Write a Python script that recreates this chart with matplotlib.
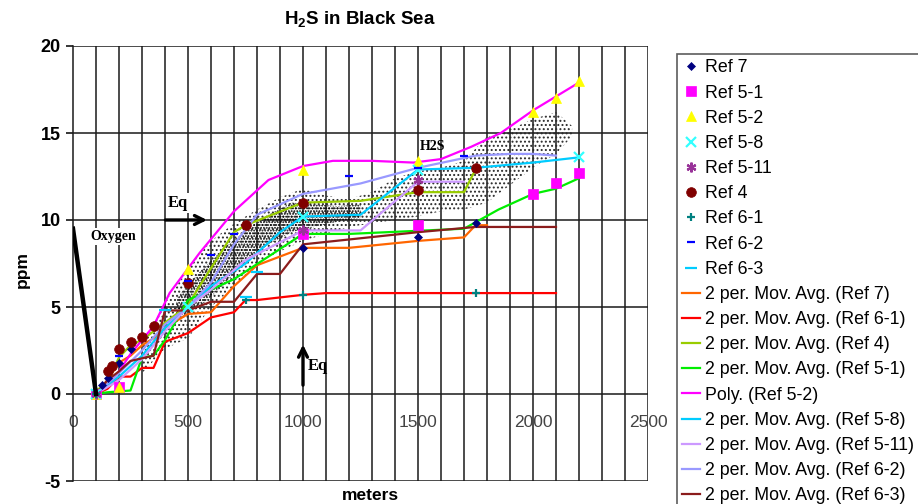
import matplotlib
matplotlib.use("Agg")
import matplotlib.pyplot as plt

plt.rcParams["font.family"] = ["Liberation Sans", "DejaVu Sans"]
plt.rcParams["mathtext.fontset"] = "custom"
plt.rcParams["mathtext.rm"] = "Liberation Sans"
plt.rcParams["mathtext.bf"] = "Liberation Sans:bold"
plt.rcParams["axes.unicode_minus"] = False
plt.rcParams["hatch.linewidth"] = 0.9

# ---- measured points (markers) ----
ref7_x = [100, 125, 150, 200, 250, 1000, 1500, 1750]
ref7_y = [0, 0.5, 0.9, 1.8, 2.6, 8.4, 9.0, 9.8]
ref51_x = [100, 200, 1000, 1500, 2000, 2100, 2200]
ref51_y = [0, 0.4, 9.2, 9.7, 11.5, 12.1, 12.7]
ref52_x = [100, 200, 500, 1000, 1500, 2000, 2100, 2200]
ref52_y = [0, 0.4, 7.2, 12.9, 13.4, 16.2, 17.0, 18.0]
ref58_x = [100, 500, 1000, 1500, 2200]
ref58_y = [0, 5.0, 10.2, 12.9, 13.6]
ref511_x = [100, 1000, 1500]
ref511_y = [0, 9.4, 12.3]
ref4_x = [150, 170, 200, 250, 300, 350, 500, 750, 1000, 1500, 1750]
ref4_y = [1.3, 1.6, 2.6, 3.0, 3.3, 3.9, 6.4, 9.7, 11.0, 11.7, 13.0]
ref61_x = [100, 750, 1000, 1750]
ref61_y = [0, 5.4, 5.7, 5.8]
ref62_x = [200, 500, 600, 700, 1200, 1500, 1700]
ref62_y = [2.2, 6.5, 8.0, 9.2, 12.5, 13.0, 13.7]
ref63_x = [400, 750, 800]
ref63_y = [4.8, 5.6, 7.0]

# ---- trend lines ----
ma7_x = [100, 150, 200, 250, 300, 350, 400, 500, 600, 700, 800, 1000, 1200, 1500, 1700, 1750, 1800]
ma7_y = [0, 0.8, 1.8, 2.2, 2.8, 3.2, 3.8, 4.6, 4.7, 6.2, 7.4, 8.4, 8.4, 8.8, 9.0, 9.7, 9.7]
ma61_x = [100, 150, 200, 250, 300, 350, 400, 500, 600, 700, 750, 800, 1000, 1100, 1500, 1750, 2100]
ma61_y = [0, 0.3, 1.0, 1.0, 1.5, 1.5, 3.0, 3.5, 4.4, 4.7, 5.4, 5.4, 5.7, 5.8, 5.8, 5.8, 5.8]
ma4_x = [100, 150, 175, 200, 250, 300, 350, 500, 550, 700, 750, 1000, 1250, 1500, 1700, 1750]
ma4_y = [0.2, 0.6, 1.4, 2.1, 2.8, 3.1, 3.6, 5.1, 6.2, 9.3, 9.7, 11.0, 11.1, 11.6, 11.6, 12.9]
ma51_x = [100, 150, 250, 300, 350, 400, 500, 700, 1000, 1200, 1700, 1850, 2000, 2100, 2200]
ma51_y = [0, 0.1, 0.2, 2.1, 2.2, 3.1, 5.4, 6.6, 9.2, 9.2, 9.5, 10.6, 11.5, 11.8, 12.4]
poly52_x = [100, 150, 200, 250, 300, 350, 420, 550, 700, 850, 1000, 1130, 1300, 1480, 1600, 1730, 1860, 2000, 2100, 2200]
poly52_y = [0, 0.5, 1.3, 2.3, 3.1, 3.9, 5.8, 8.1, 10.5, 12.3, 13.1, 13.4, 13.4, 13.3, 13.5, 14.2, 15.0, 16.3, 17.1, 17.9]
ma58_x = [100, 200, 300, 400, 500, 600, 750, 900, 1000, 1250, 1500, 1750, 2000, 2200]
ma58_y = [0, 1.0, 2.2, 3.8, 5.0, 6.2, 7.5, 9.3, 10.2, 10.3, 12.9, 13.0, 13.3, 13.6]
ma511_x = [100, 200, 300, 400, 500, 600, 750, 1000, 1250, 1500, 1700]
ma511_y = [0, 0.8, 2.0, 3.6, 5.0, 6.0, 7.7, 9.4, 9.4, 12.2, 12.2]
ma62_x = [100, 200, 300, 400, 500, 600, 700, 800, 1000, 1250, 1500, 1750, 1900, 2000, 2100]
ma62_y = [0, 1.2, 2.5, 4.0, 5.0, 6.4, 8.6, 10.3, 11.5, 12.1, 13.0, 13.7, 13.8, 13.8, 13.7]
ma63_x = [100, 150, 200, 250, 350, 400, 500, 600, 700, 750, 800, 900, 1000, 1500, 1750, 2100]
ma63_y = [0, 0.8, 1.3, 1.9, 2.2, 4.8, 4.8, 5.3, 5.3, 6.1, 6.9, 6.9, 8.6, 9.3, 9.6, 9.6]

# oxygen line
oxy_x = [0, 100]
oxy_y = [9.5, 0]

# scattered H2S cloud: outer envelope and dense core
cloud_x = [300, 400, 500, 600, 700, 800, 900, 1000, 1100, 1200, 1300, 1400, 1500, 1600, 1700, 1800, 1900, 2000, 2100, 2170]
cloud_lo = [1.2, 2.6, 3.2, 5.0, 6.2, 7.5, 8.2, 8.8, 9.2, 9.6, 9.8, 10.0, 10.2, 10.5, 10.6, 11.0, 12.0, 13.0, 13.8, 14.8]
cloud_hi = [3.0, 5.2, 7.2, 8.8, 9.8, 10.6, 11.3, 11.8, 11.4, 11.2, 11.6, 12.4, 12.8, 13.0, 13.4, 14.8, 15.2, 15.8, 16.2, 15.4]
core_x = [450, 550, 650, 750, 850, 950, 1050, 1150, 1250]
core_lo = [4.2, 5.0, 6.2, 7.6, 8.6, 9.3, 9.6, 9.9, 10.1]
core_hi = [5.5, 7.0, 8.3, 9.4, 10.3, 11.0, 10.9, 10.8, 10.9]

fig = plt.figure(figsize=(9.18, 5.04), dpi=100)
ax = fig.add_axes([73 / 918, 1 - 481 / 504, 575 / 918, 435 / 504])
ax.set_xlim(0, 2500)
ax.set_ylim(-5, 20)

# grid
for gx in range(100, 2501, 100):
    ax.axvline(gx, color="#1a1a1a", lw=1.1, zorder=1)
for gy in range(-5, 21, 5):
    ax.axhline(gy, color="#1a1a1a", lw=1.1, zorder=1)

ax.fill_between(cloud_x, cloud_lo, cloud_hi, facecolor="none", edgecolor="#2a2a2a",
                hatch="....", linewidth=0, zorder=2)
ax.fill_between(core_x, core_lo, core_hi, facecolor="none", edgecolor="black",
                hatch="......", linewidth=0, zorder=2)

lw = 1.6
lines = [
    (ma7_x, ma7_y, "#FF6600", "2 per. Mov. Avg. (Ref 7)"),
    (ma61_x, ma61_y, "#FF0000", "2 per. Mov. Avg. (Ref 6-1)"),
    (ma4_x, ma4_y, "#99CC00", "2 per. Mov. Avg. (Ref 4)"),
    (ma51_x, ma51_y, "#00EE00", "2 per. Mov. Avg. (Ref 5-1)"),
    (poly52_x, poly52_y, "#FF00FF", "Poly. (Ref 5-2)"),
    (ma58_x, ma58_y, "#00CCFF", "2 per. Mov. Avg. (Ref 5-8)"),
    (ma511_x, ma511_y, "#CC99FF", "2 per. Mov. Avg. (Ref 5-11)"),
    (ma62_x, ma62_y, "#9999FF", "2 per. Mov. Avg. (Ref 6-2)"),
    (ma63_x, ma63_y, "#8B1C1C", "2 per. Mov. Avg. (Ref 6-3)"),
]
line_handles = []
for xs, ys, c, lab in lines:
    h, = ax.plot(xs, ys, color=c, lw=lw, zorder=3, label=lab)
    line_handles.append(h)

markers = [
    (ref7_x, ref7_y, "D", "#000080", 4.5, "Ref 7"),
    (ref51_x, ref51_y, "s", "#FF00FF", 7, "Ref 5-1"),
    (ref52_x, ref52_y, "^", "#FFFF00", 7, "Ref 5-2"),
    (ref58_x, ref58_y, "x", "#33FFFF", 7, "Ref 5-8"),
    (ref511_x, ref511_y, (6, 2, 0), "#993399", 7, "Ref 5-11"),
    (ref4_x, ref4_y, "o", "#800000", 7, "Ref 4"),
    (ref61_x, ref61_y, "+", "#008080", 6, "Ref 6-1"),
    (ref62_x, ref62_y, "_", "#0000FF", 6, "Ref 6-2"),
    (ref63_x, ref63_y, "_", "#00CCFF", 8, "Ref 6-3"),
]
marker_handles = []
for xs, ys, m, c, s, lab in markers:
    h, = ax.plot(xs, ys, ls="none", marker=m, color=c, markersize=s,
                 markeredgewidth=1.6 if m in ("x", "+", "_", (6, 2, 0)) else 0.5,
                 zorder=4, label=lab)
    marker_handles.append(h)

ax.plot(oxy_x, oxy_y, color="black", lw=3.2, zorder=5)

# annotations
serif = ["Liberation Serif", "DejaVu Serif"]
box = dict(facecolor="white", edgecolor="none", pad=1.5)
ax.text(176, 9.05, "Oxygen", family=serif, fontweight="bold", fontsize=10,
        ha="center", va="center", bbox=box, zorder=6)
ax.text(455, 10.95, "Eq", family=serif, fontweight="bold", fontsize=12,
        ha="center", va="center", bbox=box, zorder=6)
ax.annotate("", xy=(595, 10), xytext=(390, 10),
            arrowprops=dict(arrowstyle="->", lw=2.4, color="black",
                            mutation_scale=16), zorder=6)
ax.annotate("", xy=(1000, 3.0), xytext=(1000, 0.35),
            arrowprops=dict(arrowstyle="->", lw=2.4, color="black",
                            mutation_scale=16), zorder=6)
ax.text(1065, 1.6, "Eq", family=serif, fontweight="bold", fontsize=12,
        ha="center", va="center", zorder=6)
ax.text(1565, 14.2, "H2S", family=serif, fontweight="bold", fontsize=10,
        ha="center", va="center", zorder=6)

# axes styling
for s in ("top", "right"):
    ax.spines[s].set_visible(False)
ax.spines["bottom"].set_position(("data", 0))
ax.spines["bottom"].set_visible(False)
ax.spines["left"].set_linewidth(1.1)
ax.spines["left"].set_color("#1a1a1a")

ax.set_xticks(range(0, 2501, 500))
ax.set_yticks(range(-5, 21, 5))
ax.tick_params(axis="x", length=0, pad=15, labelsize=12.5, labelcolor="#444444")
ax.tick_params(axis="y", length=5, width=1.1, direction="out", pad=4, labelsize=13)
for t in ax.get_yticklabels():
    t.set_fontweight("bold")

fig.text(360 / 918, 1 - 20 / 504, r"H$_\mathbf{2}$S in Black Sea", ha="center", va="center",
         fontsize=13.5, fontweight="bold")
fig.text(22 / 918, 1 - 270 / 504, "ppm", rotation=90, ha="center", va="center",
         fontsize=12.5, fontweight="bold")
fig.text(370 / 918, 0.002, "meters", ha="center", va="bottom",
         fontsize=12.5, fontweight="bold")

leg = fig.legend(handles=marker_handles + line_handles, loc="upper left",
                 bbox_to_anchor=(677 / 918, 1 - 54 / 504), fontsize=12.8,
                 frameon=True, fancybox=False, borderpad=0.3, labelspacing=0.46,
                 handlelength=1.0, handletextpad=0.25, borderaxespad=0)
leg.get_frame().set_edgecolor("#333333")
leg.get_frame().set_linewidth(1.2)

fig.savefig("out.png", dpi=100)
